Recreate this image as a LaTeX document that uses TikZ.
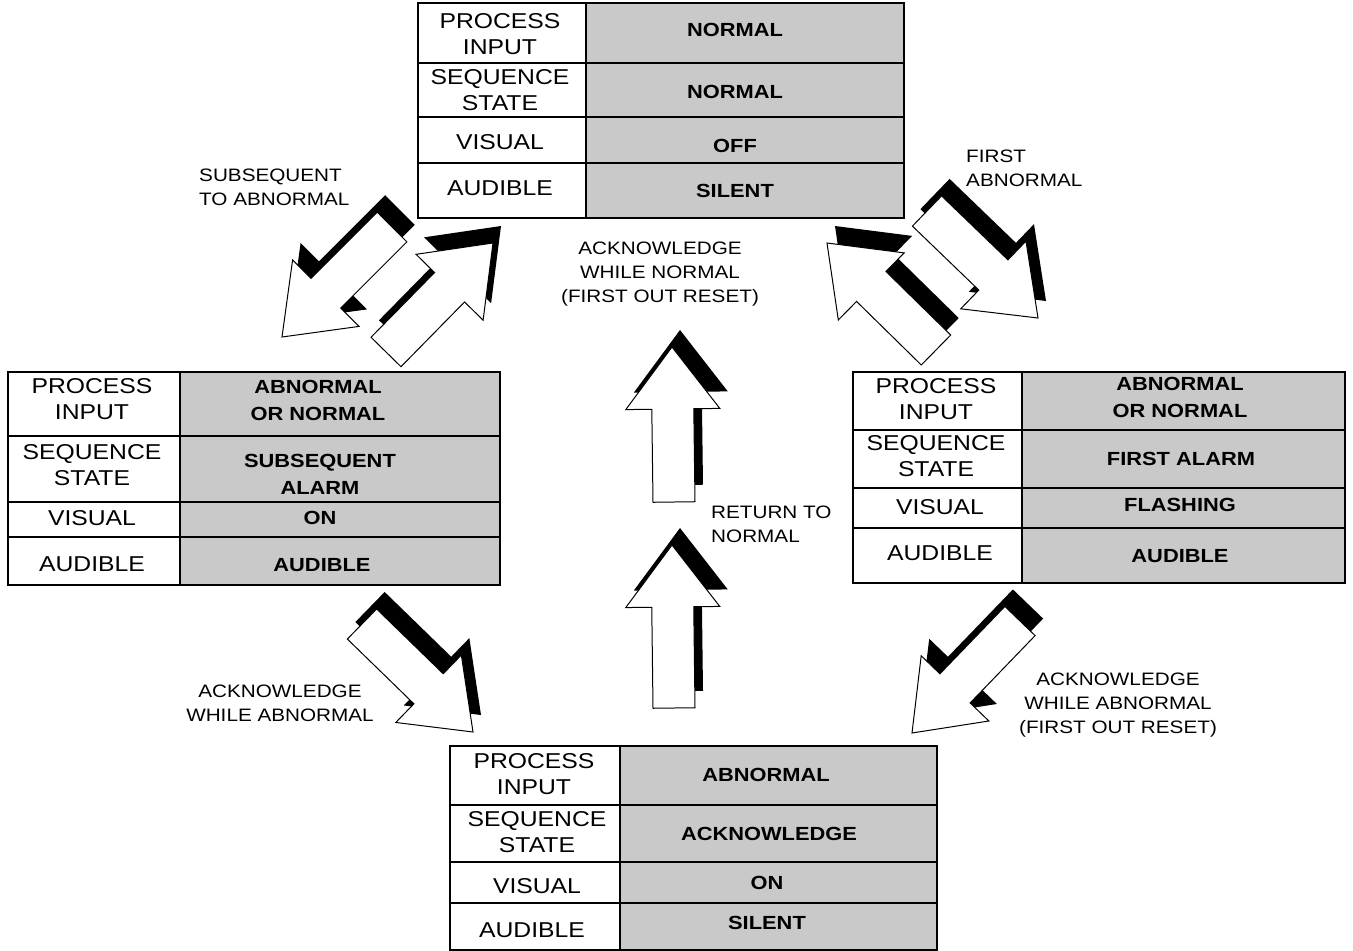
\documentclass[tikz,border=0pt]{standalone}
\usepackage{fontspec}
\setmainfont{Liberation Sans}[FakeStretch=1.15]
\usetikzlibrary{calc}

% outline of a block arrow from tail (#1) to tip (#2), with a black drop shadow
\newcommand\blockarrow[2]{%
  \coordinate (hb) at ($(#2)!62pt!(#1)$);
  \coordinate (t1) at ($(#1)!21pt!90:(#2)$);
  \coordinate (t2) at ($(#1)!21pt!-90:(#2)$);
  \coordinate (s1) at ($(hb)!21pt!90:(#2)$);
  \coordinate (s2) at ($(hb)!21pt!-90:(#2)$);
  \coordinate (b1) at ($(hb)!47pt!90:(#2)$);
  \coordinate (b2) at ($(hb)!47pt!-90:(#2)$);
  \fill[black] ($(t1)+(8,-17)$) -- ($(s1)+(8,-17)$) -- ($(b1)+(8,-17)$) -- ($(#2)+(8,-17)$)
    -- ($(b2)+(8,-17)$) -- ($(s2)+(8,-17)$) -- ($(t2)+(8,-17)$) -- cycle;
  \filldraw[arrowbody] (t1) -- (s1) -- (b1) -- (#2) -- (b2) -- (s2) -- (t2) -- cycle;
}

% frame of a state table: x0, x-divider, x1, y0, y1, three row lines
\newcommand\tableframe[8]{%
  \fill[cellshade] (#2,#4) rectangle (#3,#5);
  \draw[rowline] (#1,#6) -- (#3,#6) (#1,#7) -- (#3,#7) (#1,#8) -- (#3,#8);
  \draw[frameline] (#1,#4) rectangle (#3,#5);
  \draw[frameline] (#2,#4) -- (#2,#5);
}

\begin{document}
\begin{tikzpicture}[x=1pt,y=-1pt,
  lbl/.style={font=\fontsize{21.5}{26}\selectfont, align=center, inner sep=0pt},
  val/.style={font=\fontsize{19}{27}\selectfont\bfseries, align=center, inner sep=0pt},
  note/.style={font=\fontsize{18}{24}\selectfont, inner sep=0pt},
  cellshade/.style={fill=black!21},
  frameline/.style={draw=black, line width=1.6pt},
  rowline/.style={draw=black, line width=1.1pt},
  arrowbody/.style={fill=white, draw=black, line width=1pt, line join=miter},
  ]
\useasboundingbox (0,0) rectangle (1353,951);
\fill[white] (0,0) rectangle (1353,951);

% ---------- NORMAL (top) ----------
\tableframe{418}{586}{904}{3}{218}{63}{117}{163}
\node[lbl] (tpi)  at (500,34)  {PROCESS\\INPUT};
\node[lbl] (tss)  at (500,90)  {SEQUENCE\\STATE};
\node[lbl] (tvi)  at (500,142) {VISUAL};
\node[lbl] (tau)  at (500,188) {AUDIBLE};
\node[val] (tpiv) at (735,30)  {NORMAL};
\node[val] (tssv) at (735,92)  {NORMAL};
\node[val] (tviv) at (735,146) {OFF};
\node[val] (tauv) at (735,191) {SILENT};

% ---------- SUBSEQUENT ALARM (left) ----------
\tableframe{8}{180}{500}{372}{585}{436}{502}{537}
\node[lbl] (lpi)  at (92,399)  {PROCESS\\INPUT};
\node[lbl] (lss)  at (92,465)  {SEQUENCE\\STATE};
\node[lbl] (lvi)  at (92,518)  {VISUAL};
\node[lbl] (lau)  at (92,564)  {AUDIBLE};
\node[val] (lpiv) at (318,400) {ABNORMAL\\OR NORMAL};
\node[val] (lssv) at (320,474) {SUBSEQUENT\\ALARM};
\node[val] (lviv) at (320,518) {ON};
\node[val] (lauv) at (322,565) {AUDIBLE};

% ---------- FIRST ALARM (right) ----------
\tableframe{853}{1022}{1345}{372}{583}{430}{488}{528}
\node[lbl] (rpi)  at (936,399)  {PROCESS\\INPUT};
\node[lbl] (rss)  at (936,456)  {SEQUENCE\\STATE};
\node[lbl] (rvi)  at (940,507)  {VISUAL};
\node[lbl] (rau)  at (940,553)  {AUDIBLE};
\node[val] (rpiv) at (1180,397) {ABNORMAL\\OR NORMAL};
\node[val] (rssv) at (1181,459) {FIRST ALARM};
\node[val] (rviv) at (1180,505) {FLASHING};
\node[val] (rauv) at (1180,556) {AUDIBLE};

% ---------- ACKNOWLEDGE (bottom) ----------
\tableframe{450}{620}{937}{746}{950}{805}{862}{903}
\node[lbl] (bpi)  at (534,774) {PROCESS\\INPUT};
\node[lbl] (bss)  at (537,832) {SEQUENCE\\STATE};
\node[lbl] (bvi)  at (537,886) {VISUAL};
\node[lbl] (bau)  at (532,930) {AUDIBLE};
\node[val] (bpiv) at (766,775) {ABNORMAL};
\node[val] (bssv) at (769,834) {ACKNOWLEDGE};
\node[val] (bviv) at (767,883) {ON};
\node[val] (bauv) at (767,923) {SILENT};

% ---------- transition arrows ----------
\coordinate (a1-tail) at (392,227);  \coordinate (a1-tip) at (282,337);
\coordinate (a2-tail) at (386,352);  \coordinate (a2-tip) at (493,243);
\coordinate (a3-tail) at (927,211);  \coordinate (a3-tip) at (1038,318);
\coordinate (a4-tail) at (936,350);  \coordinate (a4-tip) at (827,243);
\coordinate (a5-tail) at (362,624);  \coordinate (a5-tip) at (473,732);
\coordinate (a6-tail) at (1020,621); \coordinate (a6-tip) at (912,733);
\coordinate (c1-tail) at (674,502);  \coordinate (c1-tip) at (672,347);
\coordinate (c2-tail) at (674,708);  \coordinate (c2-tip) at (672,545);

\blockarrow{a1-tail}{a1-tip}
\blockarrow{a2-tail}{a2-tip}
\blockarrow{a3-tail}{a3-tip}
\blockarrow{a4-tail}{a4-tip}
\blockarrow{a5-tail}{a5-tip}
\blockarrow{a6-tail}{a6-tip}
\blockarrow{c1-tail}{c1-tip}
\blockarrow{c2-tail}{c2-tip}

% ---------- transition labels ----------
\node[note, align=left, anchor=west] (n-sub) at (199,187) {SUBSEQUENT\\TO ABNORMAL};
\node[note, align=left, anchor=west] (n-first) at (966,168) {FIRST\\ABNORMAL};
\node[note, align=center] (n-acknorm) at (660,274) {ACKNOWLEDGE\\WHILE NORMAL\\(FIRST OUT RESET)};
\node[note, align=left, anchor=west] (n-ret) at (711,524) {RETURN TO\\NORMAL};
\node[note, align=center] (n-ackab) at (280,703) {ACKNOWLEDGE\\WHILE ABNORMAL};
\node[note, align=center] (n-ackabr) at (1118,705) {ACKNOWLEDGE\\WHILE ABNORMAL\\(FIRST OUT RESET)};
\end{tikzpicture}
\end{document}
